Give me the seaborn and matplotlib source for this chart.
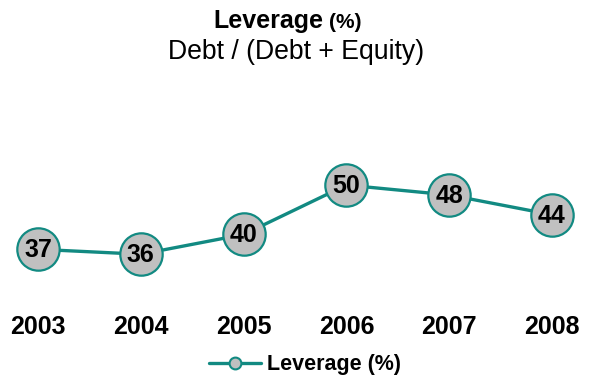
import matplotlib
matplotlib.use("Agg")
import matplotlib.pyplot as plt
from matplotlib.lines import Line2D
import seaborn as sns
import pandas as pd

years = [2003, 2004, 2005, 2006, 2007, 2008]
leverage = [37, 36, 40, 50, 48, 44]
series_name = "Leverage (%)"

teal = "#128a82"
fill = "#c0c0c0"

sns.set_theme(style="white")
plt.rcParams["font.family"] = ["Liberation Sans", "DejaVu Sans"]
plt.rcParams["text.color"] = "black"
plt.rcParams["xtick.color"] = "black"

fig = plt.figure(figsize=(5.91, 3.80), dpi=100)
ax = fig.add_axes([0.0, 0.21, 1.0, 0.58])

df = pd.DataFrame({"year": years, "value": leverage})
sns.lineplot(data=df, x="year", y="value", ax=ax, color=teal, linewidth=2.4,
             marker="o", markersize=30.5, markerfacecolor=fill,
             markeredgecolor=teal, markeredgewidth=1.6)

for x, v in zip(years, leverage):
    ax.text(x, v - 0.2, f"{v}", ha="center", va="center", fontsize=18,
            fontweight="bold", color="black", zorder=5)

ax.set_xlim(2003 - 0.37, 2008 + 0.38)
ax.set_ylim(26.7, 71.3)
ax.set_xticks(years)
ax.set_xticklabels([str(y) for y in years], fontsize=18, fontweight="bold")
ax.tick_params(axis="x", length=0, pad=11, labelcolor="black")
ax.set_yticks([])
ax.set_xlabel("")
ax.set_ylabel("")
for s in ax.spines.values():
    s.set_visible(False)
ax.patch.set_alpha(0)

# Title: bold main line with a smaller unit suffix, regular subtitle
fig.text(0.547, 0.944, "Leverage", ha="right", va="center", fontsize=18,
         fontweight="bold", color="black")
fig.text(0.556, 0.941, "(%)", ha="left", va="center", fontsize=15,
         fontweight="bold", color="black")
fig.text(0.501, 0.864, "Debt / (Debt + Equity)", ha="center", va="center",
         fontsize=19.2, color="black")

handle = Line2D([], [], color=teal, linewidth=2.4, marker="o", markersize=8.5,
                markerfacecolor=fill, markeredgecolor=teal, markeredgewidth=1.5)
fig.legend([handle], [series_name], loc="center", bbox_to_anchor=(0.516, 0.04),
           frameon=False, handlelength=2.4, handletextpad=0.3,
           prop={"weight": "bold", "size": 15.5}, labelcolor="black")

fig.savefig("out.png", dpi=100)
